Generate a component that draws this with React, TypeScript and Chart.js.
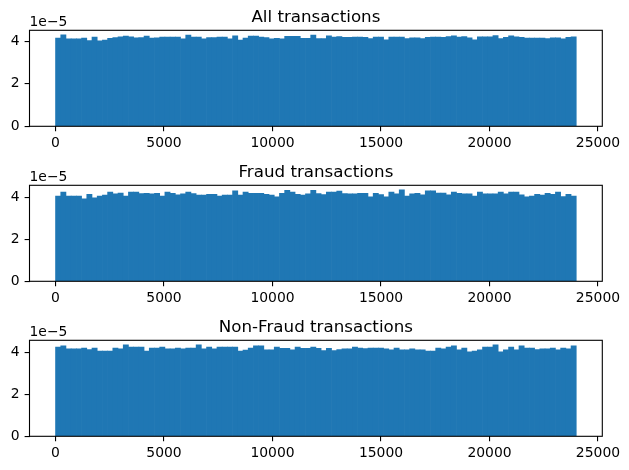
import React, { useEffect, useRef } from "react";
import { Chart, registerables } from "chart.js";

Chart.register(...registerables);

// ---- data (density values, in units of 1e-5) ----
const titles = ["All transactions", "Fraud transactions", "Non-Fraud transactions"];
const binWidth = 240;
const allTx = [
  4.16, 4.31, 4.12, 4.12, 4.12, 4.16, 4.04, 4.2, 4.03, 4.06,
  4.15, 4.18, 4.22, 4.25, 4.22, 4.17, 4.18, 4.25, 4.16, 4.17,
  4.2, 4.2, 4.2, 4.2, 4.12, 4.3, 4.2, 4.2, 4.12, 4.18,
  4.18, 4.2, 4.2, 4.12, 4.26, 4.07, 4.16, 4.25, 4.25, 4.2,
  4.18, 4.12, 4.15, 4.12, 4.24, 4.24, 4.24, 4.15, 4.15, 4.3,
  4.14, 4.14, 4.26, 4.2, 4.23, 4.19, 4.19, 4.2, 4.2, 4.19,
  4.14, 4.2, 4.2, 4.08, 4.2, 4.2, 4.2, 4.14, 4.17, 4.17,
  4.14, 4.19, 4.2, 4.2, 4.19, 4.23, 4.26, 4.2, 4.23, 4.17,
  4.08, 4.22, 4.22, 4.22, 4.28, 4.14, 4.19, 4.26, 4.22, 4.19,
  4.16, 4.16, 4.16, 4.16, 4.14, 4.17, 4.17, 4.12, 4.19, 4.22,
];
const fraudTx = [
  4.06, 4.25, 4.06, 4.06, 4.06, 3.92, 4.14, 3.97, 4.05, 4.1,
  4.24, 4.16, 4.2, 4.06, 4.25, 4.25, 4.17, 4.19, 4.16, 4.19,
  4.06, 4.24, 4.19, 4.11, 4.16, 4.24, 4.17, 4.1, 4.1, 4.14,
  4.14, 4.06, 4.1, 4.1, 4.3, 4.1, 4.24, 4.19, 4.19, 4.19,
  4.14, 4.1, 4.02, 4.19, 4.33, 4.25, 4.14, 4.1, 4.16, 4.33,
  4.17, 4.13, 4.25, 4.25, 4.29, 4.17, 4.16, 4.16, 4.19, 4.19,
  4.02, 4.19, 4.13, 4.02, 4.25, 4.16, 4.35, 4.06, 4.16, 4.19,
  4.11, 4.3, 4.3, 4.2, 4.2, 4.11, 4.24, 4.19, 4.16, 4.16,
  4.06, 4.24, 4.16, 4.16, 4.16, 4.24, 4.16, 4.24, 4.24, 4.11,
  4.02, 4.05, 4.14, 4.1, 4.19, 4.14, 4.25, 4.03, 4.14, 4.06,
];
const nonFraudTx = [
  4.25, 4.3, 4.16, 4.16, 4.16, 4.2, 4.13, 4.2, 4.06, 4.06,
  4.06, 4.2, 4.16, 4.35, 4.24, 4.25, 4.25, 4.06, 4.2, 4.2,
  4.25, 4.16, 4.16, 4.2, 4.16, 4.2, 4.2, 4.35, 4.16, 4.25,
  4.16, 4.25, 4.25, 4.25, 4.24, 4.06, 4.1, 4.2, 4.3, 4.3,
  4.11, 4.11, 4.24, 4.19, 4.19, 4.11, 4.24, 4.19, 4.19, 4.24,
  4.19, 4.08, 4.19, 4.08, 4.13, 4.16, 4.16, 4.25, 4.2, 4.17,
  4.2, 4.2, 4.2, 4.16, 4.11, 4.2, 4.11, 4.11, 4.16, 4.11,
  4.11, 4.06, 4.06, 4.2, 4.16, 4.25, 4.3, 4.11, 4.2, 4.02,
  4.06, 4.11, 4.25, 4.25, 4.35, 4.02, 4.11, 4.25, 4.11, 4.3,
  4.2, 4.2, 4.13, 4.16, 4.16, 4.2, 4.11, 4.2, 4.16, 4.3,
];
const xTicks = [0, 5000, 10000, 15000, 20000, 25000];
const yTicks = [0, 2, 4];
const offsetLabel = "1e\u22125";
const xMin = -1200;
const xMax = 25200;

// ---- layout ----
const W = 629;
const PANEL_H = 155;
const AX_L = 29.5;
const AX_R = 602.3;
const AX_T = 30.3;
const AX_B = 126.3;
const BLUE = "#1f77b4";
const FONT = "'DejaVu Sans', sans-serif";
const TICK_SIZE = 13.9;
const TITLE_SIZE = 16.7;

function Panel({ title, values, top, height }: { title: string; values: number[]; top: number; height: number }) {
  const ref = useRef<HTMLCanvasElement>(null);
  useEffect(() => {
    const framePlugin = {
      id: "frame",
      afterDraw(chart: any) {
        const { ctx, chartArea } = chart;
        const { left, right, top: t, bottom } = chartArea;
        ctx.save();
        ctx.strokeStyle = "#000";
        ctx.lineWidth = 1.1;
        ctx.strokeRect(left, t, right - left, bottom - t);
        ctx.fillStyle = "#000";
        ctx.font = `${TITLE_SIZE}px ${FONT}`;
        ctx.textAlign = "center";
        ctx.textBaseline = "alphabetic";
        ctx.fillText(title, (left + right) / 2, t - 8.3);
        ctx.font = `${TICK_SIZE}px ${FONT}`;
        ctx.textAlign = "left";
        ctx.fillText(offsetLabel, left, t - 4.3);
        ctx.restore();
      },
    };
    const points = values.map((v, i) => ({ x: (i + 0.5) * binWidth, y: v }));
    const chart = new Chart(ref.current!, {
      type: "bar",
      data: {
        datasets: [
          {
            data: points,
            backgroundColor: BLUE,
            borderWidth: 0,
            barPercentage: 1,
            categoryPercentage: 1,
            grouped: false,
          } as any,
        ],
      },
      options: {
        responsive: false,
        animation: false,
        devicePixelRatio: 1,
        layout: { padding: { left: 0, right: W - AX_R, top: AX_T, bottom: 0 } },
        plugins: { legend: { display: false }, tooltip: { enabled: false }, title: { display: false } },
        scales: {
          x: {
            type: "linear",
            min: xMin,
            max: xMax,
            offset: false,
            afterBuildTicks: (s: any) => {
              s.ticks = xTicks.map((v) => ({ value: v }));
            },
            afterFit: (s: any) => {
              s.height = height - AX_B;
            },
            grid: { display: true, drawOnChartArea: false, drawTicks: true, tickLength: 4.9, color: "#000", lineWidth: 1.1, offset: false },
            border: { display: false },
            ticks: {
              color: "#000",
              font: { family: FONT, size: TICK_SIZE },
              padding: 4,
              maxRotation: 0,
              autoSkip: false,
              callback: (v: any) => String(v),
            },
          },
          y: {
            type: "linear",
            min: 0,
            max: 1.05 * Math.max(...values),
            afterBuildTicks: (s: any) => {
              s.ticks = yTicks.map((v) => ({ value: v }));
            },
            afterFit: (s: any) => {
              s.width = AX_L;
            },
            grid: { display: true, drawOnChartArea: false, drawTicks: true, tickLength: 4.9, color: "#000", lineWidth: 1.1 },
            border: { display: false },
            ticks: {
              color: "#000",
              font: { family: FONT, size: TICK_SIZE },
              padding: 4.9,
              autoSkip: false,
              callback: (v: any) => String(v),
            },
          },
        },
      } as any,
      plugins: [framePlugin],
    });
    return () => chart.destroy();
  }, [title, values, height]);
  return (
    <canvas
      ref={ref}
      width={W}
      height={height}
      style={{ position: "absolute", left: 0, top, width: W, height, display: "block" }}
    />
  );
}

export default function App() {
  const series = [allTx, fraudTx, nonFraudTx];
  return (
    <div style={{ position: "fixed", left: 0, top: 0, width: W, height: 470, background: "#fff", overflow: "hidden" }}>
      {series.map((vals, k) => (
        <Panel key={k} title={titles[k]} values={vals} top={k * PANEL_H} height={k === 2 ? 470 - 2 * PANEL_H : PANEL_H} />
      ))}
    </div>
  );
}
